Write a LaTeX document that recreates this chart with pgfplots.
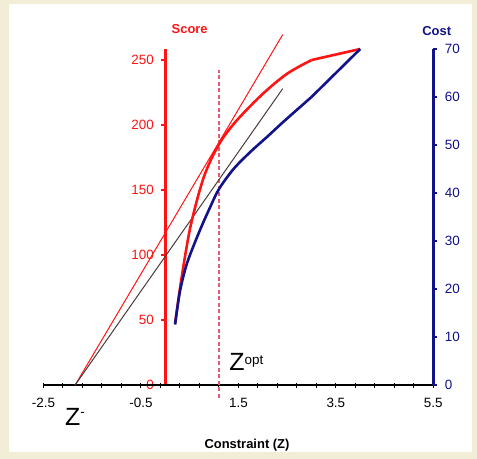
\documentclass[border=0pt]{standalone}
\usepackage{pgfplots}
\pgfplotsset{compat=1.18}
\usepackage{fontspec}
\setmainfont{Liberation Sans}

\definecolor{scorered}{HTML}{FF1414}
\definecolor{costnavy}{HTML}{12128A}
\definecolor{tangentgrey}{HTML}{4A3C3A}
\definecolor{optpink}{HTML}{E85A74}
\definecolor{paper}{HTML}{F1EDD6}

% score values along the constraint Z
\pgfplotstableread{
z     score
0.20  47
0.30  74
0.40  98
0.50  119
0.60  135
0.70  149
0.80  161
0.92  172
1.04  181
1.20  191
1.50  205
2.00  224
2.50  239.5
3.00  250
}\scorecurve
\pgfplotstableread{
z     score
3.00  250
4.00  258.5
}\scoretail

% cost values along the constraint Z
\pgfplotstableread{
z     cost
0.20  12.6
0.30  19.5
0.45  25.5
0.70  32
0.90  36.6
1.10  40.8
1.40  45
1.75  48.6
2.10  51.8
2.42  54.8
3.00  60
}\costcurve
\pgfplotstableread{
z     cost
3.00  60
4.00  70
}\costtail

\pgfplotsset{
  ticklbl/.style={font=\fontsize{13.5}{15}\selectfont},
  frame/.style={scale only axis, height=336bp, anchor=south west},
}

\begin{document}
\begin{tikzpicture}
% page and white panel
\fill[paper] (-43.5bp,-74bp) rectangle (433.5bp,385bp);
\fill[white] (-34.5bp,-67bp) rectangle (428.5bp,381bp);

% Score axis, standing at Z = 0
\begin{axis}[frame, width=267.99bp, at={(121.81bp,0bp)},
  xmin=0, xmax=1, ymin=0, ymax=258.5,
  axis x line=none, axis y line*=left,
  axis line style={-, scorered, line width=2.4bp},
  xtick=\empty,
  ytick={0,50,...,250},
  yticklabels={0,50,100,150,200,250},
  tick align=outside, major tick length=4bp,
  tick style={scorered, line width=1.2bp},
  yticklabel style={ticklbl, text=scorered, xshift=-4bp},
]
\end{axis}

% Constraint axis and score curves
\begin{axis}[frame, width=389.8bp, at={(0bp,0bp)},
  xmin=-2.5, xmax=5.5, ymin=0, ymax=258.5,
  axis x line=bottom, axis y line=none,
  axis line style={-, black, line width=1.6bp},
  ytick=\empty,
  xtick={-2.5,-0.5,1.5,3.5,5.5},
  xticklabels={-2.5,-0.5,1.5,3.5,5.5},
  minor x tick num=4,
  tick align=center, major tick length=5bp, minor tick length=5bp,
  tick style={black, line width=1bp},
  xticklabel style={ticklbl, yshift=-7bp},
  clip=false,
]
\addplot[optpink, line width=1.2bp, dash pattern=on 4bp off 2.5bp] coordinates {(1.1,-10) (1.1,242)};
\addplot[scorered, line width=1bp] coordinates {(-1.85,0) (2.41,269.6)};
\addplot[tangentgrey, line width=1bp] coordinates {(-1.85,0) (2.41,228)};
\addplot[scorered, line width=2.6bp, smooth] table[x=z, y=score] {\scorecurve};
\addplot[scorered, line width=2.6bp] table[x=z, y=score] {\scoretail};
\node[anchor=base west, inner sep=0pt] at (axis cs:1.31,11)
  {\fontsize{25}{25}\selectfont Z\raisebox{6bp}{\fontsize{13.5}{13.5}\selectfont opt}};
\node[anchor=base west, inner sep=0pt] at (axis cs:-2.06,-31)
  {\fontsize{25}{25}\selectfont Z\raisebox{9bp}{\fontsize{13.5}{13.5}\selectfont -}};
\end{axis}

% Cost axis on the right
\begin{axis}[frame, width=389.8bp, at={(0bp,0bp)},
  xmin=-2.5, xmax=5.5, ymin=0, ymax=70,
  axis x line=none, axis y line*=right,
  axis line style={-, costnavy, line width=2.4bp},
  xtick=\empty,
  ytick={0,10,...,70},
  yticklabels={0,10,20,30,40,50,60,70},
  tick align=outside, major tick length=4bp,
  tick style={costnavy, line width=1.2bp},
  yticklabel style={ticklbl, text=costnavy, xshift=4bp},
  clip=false,
]
\addplot[costnavy, line width=2.6bp, smooth] table[x=z, y=cost] {\costcurve};
\addplot[costnavy, line width=2.6bp] table[x=z, y=cost] {\costtail};
\end{axis}

\node[scorered, font=\bfseries\fontsize{13}{13}\selectfont] at (146.2bp,355.7bp) {Score};
\node[costnavy, font=\bfseries\fontsize{13}{13}\selectfont] at (393.2bp,354bp) {Cost};
\node[black, font=\bfseries\fontsize{13}{13}\selectfont] at (203.5bp,-60bp) {Constraint (Z)};
\end{tikzpicture}
\end{document}
